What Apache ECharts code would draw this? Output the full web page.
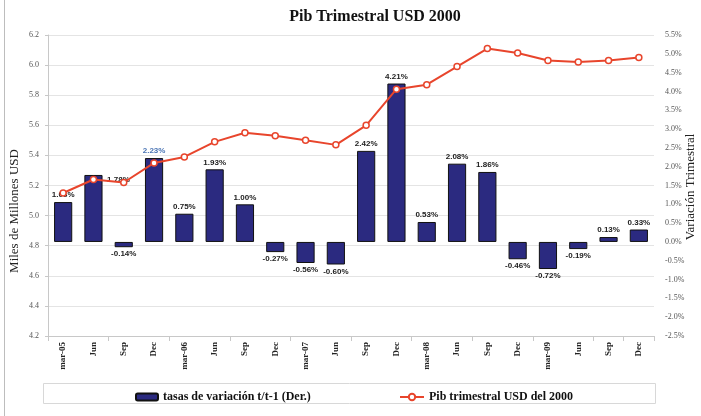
<!DOCTYPE html>
<html>
<head>
<meta charset="utf-8">
<script src="https://cdn.jsdelivr.net/npm/echarts@6/dist/echarts.min.js"></script>
<style>
  html, body { margin: 0; padding: 0; background: #fff; }
  #main { width: 701px; height: 416px; }
</style>
</head>
<body>
<div id="main"></div>
<script>
var chart = echarts.init(document.getElementById('main'))

// trimestres
var categorias = ['mar-05', 'Jun', 'Sep', 'Dec', 'mar-06', 'Jun', 'Sep', 'Dec', 'mar-07', 'Jun',
                  'Sep', 'Dec', 'mar-08', 'Jun', 'Sep', 'Dec', 'mar-09', 'Jun', 'Sep', 'Dec']
// tasas de variacion t/t-1 (%)
var tasas = [1.06, 1.78, -0.14, 2.23, 0.75, 1.93, 1.00, -0.27, -0.56, -0.60,
             2.42, 4.21, 0.53, 2.08, 1.86, -0.46, -0.72, -0.19, 0.13, 0.33]
// pib trimestral, miles de millones USD del 2000
var pib = [5.15, 5.24, 5.22, 5.35, 5.39, 5.49, 5.55, 5.53, 5.50, 5.47,
           5.60, 5.84, 5.87, 5.99, 6.11, 6.08, 6.03, 6.02, 6.03, 6.05]

var serif = '"Liberation Serif", "DejaVu Serif", serif'
var sans = '"Liberation Sans", Arial, sans-serif'

// datos de barras con etiquetas
var barData = tasas.map(function (v, i) {
    var item = {
        value: v,
        label: {
            position: v >= 0 ? 'top' : 'bottom'
        }
    }
    if (i == 3) {
        item.label.color = '#4a74b4'
    }
    if (i == 1) {
        // etiqueta desplazada en el original
        item.label.offset = [25, 12]
    }
    return item
})

var option = {
    backgroundColor: '#fff',
    animation: false,
    title: {
        text: 'Pib Trimestral USD 2000',
        left: 370,
        textAlign: 'center',
        top: 4,
        textStyle: { fontFamily: serif, fontSize: 16, fontWeight: 'bold', color: '#111' }
    },
    legend: [{
        data: ['tasas de variación t/t-1 (Der.)'],
        left: 130,
        top: 386,
        itemWidth: 22,
        itemHeight: 7,
        textStyle: { fontFamily: serif, fontSize: 12, fontWeight: 'bold', color: '#111' }
    }, {
        data: ['Pib trimestral USD del 2000'],
        left: 394,
        top: 386,
        itemWidth: 24,
        itemHeight: 8,
        textStyle: { fontFamily: serif, fontSize: 12, fontWeight: 'bold', color: '#111' }
    }],
    grid: {
        left: 48,
        right: 47,
        top: 35,
        bottom: 80
    },
    xAxis: {
        type: 'category',
        data: categorias,
        axisLine: { onZero: false, lineStyle: { color: '#c8c8c8' } },
        axisTick: { show: true, interval: 1, length: 5, lineStyle: { color: '#c8c8c8' } },
        axisLabel: {
            interval: 0,
            rotate: 90,
            margin: 6,
            fontFamily: serif,
            fontSize: 9,
            fontWeight: 'bold',
            color: '#222'
        }
    },
    yAxis: [{
        type: 'value',
        min: 4.2,
        max: 6.2,
        interval: 0.2,
        axisLine: { show: true, lineStyle: { color: '#c8c8c8' } },
        axisTick: { show: true, length: 3, lineStyle: { color: '#c8c8c8' } },
        axisLabel: {
            margin: 9,
            fontFamily: serif,
            fontSize: 8,
            color: '#555',
            formatter: function (v) { return v.toFixed(1) }
        },
        splitLine: { lineStyle: { color: '#e4e4e4' } }
    }, {
        type: 'value',
        min: -2.5,
        max: 5.5,
        interval: 0.5,
        axisLine: { show: false },
        axisTick: { show: false },
        axisLabel: {
            margin: 11,
            fontFamily: serif,
            fontSize: 8,
            color: '#555',
            formatter: function (v) { return v.toFixed(1) + '%' }
        },
        splitLine: { show: false }
    }],
    graphic: [{
        type: 'rect',
        shape: { x: 43.5, y: 383.5, width: 612, height: 20 },
        style: { fill: 'none', stroke: '#d8d8d8', lineWidth: 1 },
        z: -1
    }, {
        type: 'line',
        shape: { x1: 4.5, y1: 0, x2: 4.5, y2: 416 },
        style: { stroke: '#bdbdbd', lineWidth: 1 }
    }, {
        type: 'text',
        x: 15,
        y: 211,
        rotation: Math.PI / 2,
        style: {
            text: 'Miles de Millones USD',
            fontFamily: serif,
            fontSize: 13,
            fill: '#222',
            textAlign: 'center',
            textVerticalAlign: 'middle'
        }
    }, {
        type: 'text',
        x: 691,
        y: 187,
        rotation: Math.PI / 2,
        style: {
            text: 'Variación Trimestral',
            fontFamily: serif,
            fontSize: 13,
            fill: '#222',
            textAlign: 'center',
            textVerticalAlign: 'middle'
        }
    }],
    series: [{
        name: 'tasas de variación t/t-1 (Der.)',
        type: 'bar',
        yAxisIndex: 1,
        data: barData,
        barWidth: '60%',
        itemStyle: { color: '#2b2a80', borderColor: '#111', borderWidth: 1 },
        label: {
            show: true,
            distance: 3,
            fontFamily: sans,
            fontSize: 8,
            fontWeight: 'bold',
            color: '#222',
            formatter: function (p) { return p.value.toFixed(2) + '%' }
        }
    }, {
        name: 'Pib trimestral USD del 2000',
        type: 'line',
        yAxisIndex: 0,
        data: pib,
        symbol: 'circle',
        symbolSize: 6,
        itemStyle: { color: '#fff', borderColor: '#e8452c', borderWidth: 1.5 },
        lineStyle: { color: '#e8452c', width: 2 },
        z: 3
    }]
}

chart.setOption(option)
</script>
</body>
</html>
